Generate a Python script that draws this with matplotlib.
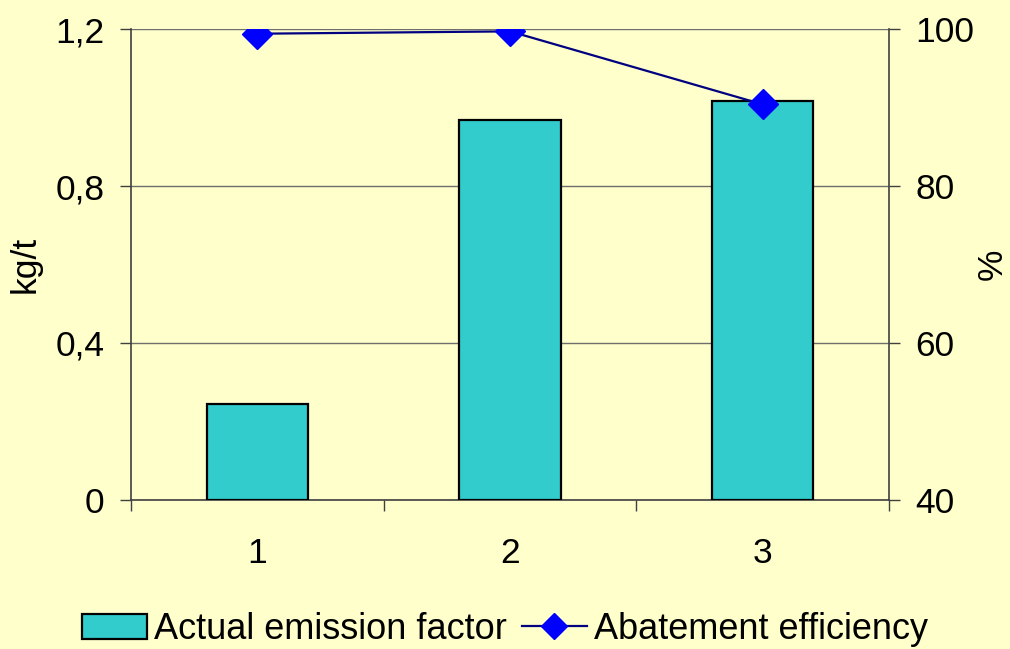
import numpy as np
import matplotlib
matplotlib.use("Agg")
import matplotlib.pyplot as plt
from matplotlib.ticker import FixedLocator

plt.rcParams["font.family"] = ["Liberation Sans", "DejaVu Sans"]

# ── Data ──────────────────────────────────────────────────────────────────────
categories = ["1", "2", "3"]
emission_factor = [0.245, 0.968, 1.016]     # kg/t
abatement_eff = [99.4, 99.7, 90.4]          # %
left_ticks = [0, 0.4, 0.8, 1.2]
left_labels = ["0", "0,4", "0,8", "1,2"]
right_ticks = [40, 60, 80, 100]

# ── Colors ────────────────────────────────────────────────────────────────────
BG = "#FFFFCC"
BAR = "#33CCCC"
LINE = "#000080"
MARK = "#0000FF"
GRID = "#6E6E6E"
AXC = "#404040"
FS = 25.5

fig = plt.figure(figsize=(10.10, 6.49), dpi=100, facecolor=BG)
ax = fig.add_axes([0.1297, 0.2296, 0.7505, 0.7257])
ax.set_facecolor(BG)

x = np.arange(1, len(categories) + 1)
ax.bar(x, emission_factor, width=0.4, color=BAR, edgecolor="black",
       linewidth=1.6, zorder=3, label="Actual emission factor")

ax.set_xlim(0.5, 3.5)
ax.set_ylim(0, 1.2)
ax.set_yticks(left_ticks)
ax.set_yticklabels(left_labels)
ax.yaxis.grid(True, color=GRID, lw=1.0, zorder=0)
ax.set_axisbelow(True)

ax.set_xticks(x)
ax.set_xticklabels(categories)
ax.xaxis.set_minor_locator(FixedLocator([0.5, 1.5, 2.5, 3.5]))
ax.tick_params(axis="x", which="major", length=0, pad=27, labelsize=FS)
ax.tick_params(axis="x", which="minor", length=8, width=1.0, color=AXC, direction="out")
ax.tick_params(axis="y", length=8, width=1.0, color=AXC, pad=11, labelsize=FS)

for side in ["top", "right"]:
    ax.spines[side].set_visible(False)
for side in ["left", "bottom"]:
    ax.spines[side].set_color(AXC)
    ax.spines[side].set_linewidth(1.2)

ax.set_ylabel("kg/t", fontsize=FS, labelpad=10)

# ── Secondary axis: abatement efficiency ─────────────────────────────────────
ax2 = ax.twinx()
ax2.set_ylim(40, 100)
ax2.set_yticks(right_ticks)
ax2.tick_params(axis="y", length=8, width=1.0, color=AXC, pad=11, labelsize=FS)
for side in ["top", "left", "bottom"]:
    ax2.spines[side].set_visible(False)
ax2.spines["right"].set_color(AXC)
ax2.spines["right"].set_linewidth(1.2)
ax2.plot(x, abatement_eff, color=LINE, lw=1.6, marker="D", ms=15,
         mfc=MARK, mec=MARK, zorder=5, label="Abatement efficiency")
ax2.set_ylabel("%", fontsize=FS, labelpad=1)

# ── Legend ────────────────────────────────────────────────────────────────────
h1, l1 = ax.get_legend_handles_labels()
h2, l2 = ax2.get_legend_handles_labels()
fig.legend(h1 + h2, l1 + l2, loc="center", bbox_to_anchor=(0.5, 0.03),
           ncol=2, frameon=False, fontsize=26, handlelength=1.8,
           handletextpad=0.2, columnspacing=0.4, handleheight=0.72,
           markerscale=0.85, borderpad=0.1)

fig.savefig("out.png", dpi=100, facecolor=BG)
